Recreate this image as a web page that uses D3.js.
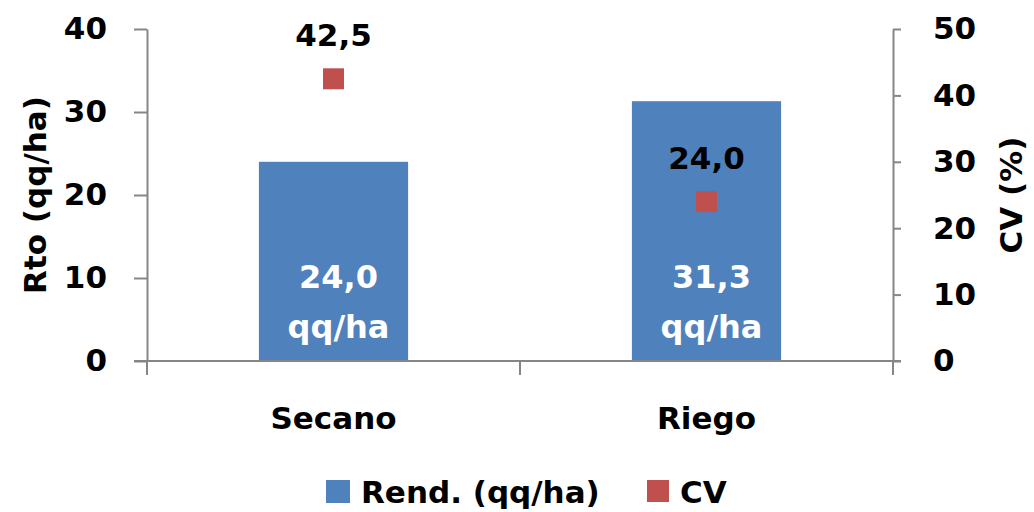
<!DOCTYPE html>
<html>
<head>
<meta charset="utf-8">
<script src="https://cdn.jsdelivr.net/npm/d3@7"></script>
<style>
  body { margin: 0; background: white; }
  text { font-family: "DejaVu Sans", sans-serif; font-weight: bold; }
</style>
</head>
<body>
<div id="chart"></div>
<script>
// data
var categories = ["Secano", "Riego"];
var rend = [24.0, 31.3];
var cv = [42.5, 24.0];
var leftTicks = [0, 10, 20, 30, 40];
var rightTicks = [0, 10, 20, 30, 40, 50];

var barColor = "#4f81bd";
var cvColor = "#c0504d";
var axisColor = "#868686";
var fs = "31px";

var svg = d3.select("#chart").append("svg")
    .attr("width", 1034)
    .attr("height", 512);

var x = d3.scaleBand().domain(categories).range([147, 893])
    .paddingInner(0.6).paddingOuter(0.3);
var y = d3.scaleLinear().domain([0, 40]).range([361, 29]);
var y2 = d3.scaleLinear().domain([0, 50]).range([361, 29]);

var fmt = d => d.toFixed(1).replace(".", ",");

// bars
svg.selectAll("rect.bar")
    .data(categories)
    .enter()
    .append("rect")
    .attr("class", "bar")
    .attr("x", d => x(d))
    .attr("y", (d, i) => y(rend[i]))
    .attr("width", x.bandwidth())
    .attr("height", (d, i) => y(0) - y(rend[i]))
    .attr("fill", barColor);

// bar labels (two lines, white)
var barLab = svg.selectAll("text.barlab")
    .data(categories)
    .enter()
    .append("text")
    .attr("class", "barlab")
    .attr("text-anchor", "middle")
    .attr("font-size", "32px")
    .attr("fill", "white");
barLab.append("tspan")
    .attr("x", d => x(d) + x.bandwidth() / 2 + 5)
    .attr("y", y(0) - 73)
    .text((d, i) => fmt(rend[i]));
barLab.append("tspan")
    .attr("x", d => x(d) + x.bandwidth() / 2 + 5)
    .attr("y", y(0) - 23)
    .text("qq/ha");

// axes
var leftAxis = d3.axisLeft(y).tickValues(leftTicks).tickSize(13).tickSizeOuter(0).tickPadding(27);
var rightAxis = d3.axisRight(y2).tickValues(rightTicks).tickSize(8).tickSizeOuter(0).tickPadding(32);

function styleAxis(g) {
    g.select(".domain").attr("stroke", axisColor).attr("stroke-width", 2);
    g.selectAll(".tick line").attr("stroke", axisColor).attr("stroke-width", 2);
    g.selectAll(".tick text")
        .attr("fill", "black")
        .attr("font-size", fs)
        .attr("font-family", "DejaVu Sans, sans-serif")
        .attr("font-weight", "bold");
}

svg.append("g").attr("transform", "translate(147,0)").call(leftAxis).call(styleAxis);
svg.append("g").attr("transform", "translate(893,0)").call(rightAxis).call(styleAxis);

// x axis line and category boundary ticks
svg.append("line")
    .attr("x1", 134).attr("x2", 901)
    .attr("y1", y(0)).attr("y2", y(0))
    .attr("stroke", axisColor).attr("stroke-width", 2);
var bounds = [0, 1, 2].map(i => 147 + i * x.step());
svg.selectAll("line.xtick")
    .data(bounds)
    .enter()
    .append("line")
    .attr("class", "xtick")
    .attr("x1", d => d).attr("x2", d => d)
    .attr("y1", y(0)).attr("y2", y(0) + 14)
    .attr("stroke", axisColor).attr("stroke-width", 2);

svg.selectAll("text.cat")
    .data(categories)
    .enter()
    .append("text")
    .attr("class", "cat")
    .attr("x", d => x(d) + x.bandwidth() / 2)
    .attr("y", 429)
    .attr("text-anchor", "middle")
    .attr("font-size", fs)
    .text(d => d);

// CV markers
svg.selectAll("rect.cv")
    .data(categories)
    .enter()
    .append("rect")
    .attr("class", "cv")
    .attr("x", d => x(d) + x.bandwidth() / 2 - 10.5)
    .attr("y", (d, i) => y2(cv[i]) - 10.5)
    .attr("width", 21)
    .attr("height", 21)
    .attr("fill", cvColor);

svg.selectAll("text.cvlab")
    .data(categories)
    .enter()
    .append("text")
    .attr("class", "cvlab")
    .attr("x", d => x(d) + x.bandwidth() / 2)
    .attr("y", (d, i) => y2(cv[i]) - 33)
    .attr("text-anchor", "middle")
    .attr("font-size", fs)
    .attr("fill", "black")
    .text((d, i) => fmt(cv[i]));

// axis titles
svg.append("text")
    .attr("transform", "translate(46,195) rotate(-90)")
    .attr("text-anchor", "middle")
    .attr("font-size", fs)
    .text("Rto (qq/ha)");
svg.append("text")
    .attr("transform", "translate(1022,195) rotate(-90)")
    .attr("text-anchor", "middle")
    .attr("font-size", fs)
    .text("CV (%)");

// legend
var legend = svg.append("g");
legend.append("rect")
    .attr("x", 326).attr("y", 480).attr("width", 24).attr("height", 23)
    .attr("fill", barColor);
legend.append("text")
    .attr("x", 361).attr("y", 503)
    .attr("font-size", fs)
    .text("Rend. (qq/ha)");
legend.append("rect")
    .attr("x", 647).attr("y", 480).attr("width", 22).attr("height", 22)
    .attr("fill", cvColor);
legend.append("text")
    .attr("x", 680).attr("y", 503)
    .attr("font-size", fs)
    .text("CV");
</script>
</body>
</html>
